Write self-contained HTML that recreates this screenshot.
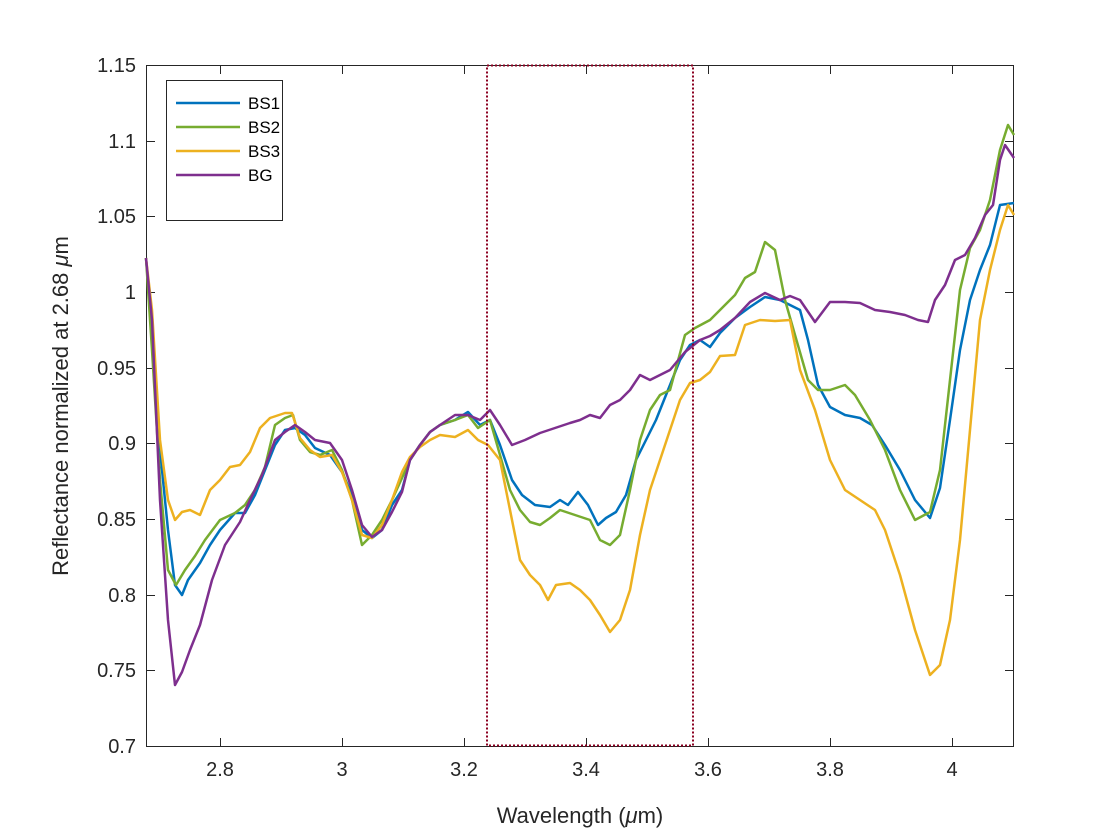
<!DOCTYPE html>
<html><head><meta charset="utf-8"><style>
html,body{margin:0;padding:0;background:#fff;}
svg{display:block;font-family:"Liberation Sans","DejaVu Sans",sans-serif;}
</style></head><body>
<svg width="1120" height="840" viewBox="0 0 1120 840">
<rect width="1120" height="840" fill="#fff"/>
<rect x="146.5" y="65.5" width="867" height="681" fill="#fff" stroke="#262626" stroke-width="1"/>
<g stroke="#262626" stroke-width="1">
<path d="M220.5 746v-8M342.5 746v-8M464.5 746v-8M586.5 746v-8M708.5 746v-8M830.5 746v-8M952.5 746v-8"/>
<path d="M220.5 66v8M342.5 66v8M464.5 66v8M586.5 66v8M708.5 66v8M830.5 66v8M952.5 66v8"/>
<path d="M147 65.5h8M147 141.5h8M147 216.5h8M147 292.5h8M147 368.5h8M147 443.5h8M147 519.5h8M147 595.5h8M147 670.5h8M147 746.5h8"/>
<path d="M1013 65.5h-8M1013 141.5h-8M1013 216.5h-8M1013 292.5h-8M1013 368.5h-8M1013 443.5h-8M1013 519.5h-8M1013 595.5h-8M1013 670.5h-8M1013 746.5h-8"/>
</g>
<g font-size="20" fill="#262626" text-anchor="middle">
<text x="220" y="776">2.8</text><text x="342" y="776">3</text><text x="464" y="776">3.2</text><text x="586" y="776">3.4</text><text x="708" y="776">3.6</text><text x="830" y="776">3.8</text><text x="952" y="776">4</text>
</g>
<g font-size="20" fill="#262626" text-anchor="end">
<text x="136" y="72">1.15</text><text x="136" y="148">1.1</text><text x="136" y="223">1.05</text><text x="136" y="299">1</text><text x="136" y="375">0.95</text><text x="136" y="450">0.9</text><text x="136" y="526">0.85</text><text x="136" y="602">0.8</text><text x="136" y="677">0.75</text><text x="136" y="753">0.7</text>
</g>
<text x="580" y="823" font-size="22" fill="#262626" text-anchor="middle">Wavelength (<tspan font-style="italic">μ</tspan>m)</text>
<text transform="translate(68,406) rotate(-90)" font-size="22" fill="#262626" text-anchor="middle">Reflectance normalized at 2.68 <tspan font-style="italic">μ</tspan>m</text>
<g fill="none" stroke-width="2.5" stroke-linejoin="round">
<polyline stroke="#0072BD" points="146,258 152,330 160,450 168,530 175,585 182,595 188,580 200,563 210,545 220,530 235,513 245,513 255,495 265,470 275,445 285,430 295,428 305,435 315,448 330,455 342,472 352,495 362,530 372,538 382,530 392,505 402,490 410,460 420,445 430,432 440,425 455,420 468,412 480,425 490,420 500,445 512,480 522,495 535,505 550,507 560,500 568,505 578,492 588,505 598,525 606,518 616,512 626,495 636,460 646,440 656,420 666,395 680,360 690,345 700,340 710,347 720,333 735,318 750,307 765,297 780,300 790,305 800,310 808,340 818,385 830,407 845,415 860,418 872,425 885,445 900,470 915,500 930,518 940,488 950,420 960,350 970,300 980,270 990,245 1000,205 1014,203"/>
<polyline stroke="#77AC30" points="146,258 152,350 160,480 168,570 176,585 185,570 195,556 205,540 220,520 235,513 245,505 255,490 265,467 275,425 285,418 293,415 300,440 310,452 320,455 332,450 342,470 352,500 362,545 372,535 382,520 392,500 402,478 410,460 420,445 430,432 440,425 455,420 468,415 478,428 490,420 500,455 510,490 520,510 530,522 540,525 550,518 560,510 575,515 590,520 600,540 610,545 620,535 630,490 640,440 650,410 660,395 670,390 685,335 695,328 710,320 720,310 735,295 745,278 755,272 765,242 775,250 785,300 795,335 808,380 818,390 830,390 845,385 855,395 870,420 885,450 900,490 915,520 930,512 940,470 950,380 960,290 970,248 980,230 990,200 1000,150 1008,125 1014,135"/>
<polyline stroke="#EDB120" points="146,258 152,310 160,440 168,500 175,520 182,512 190,510 200,515 210,490 220,480 230,467 240,465 250,452 260,428 270,418 285,413 292,413 300,438 310,450 320,457 332,455 342,472 352,500 362,535 372,538 382,525 392,500 402,472 410,457 420,447 430,440 440,435 455,437 468,430 478,440 488,445 500,460 510,510 520,560 530,575 540,585 548,600 556,585 570,583 580,590 590,600 600,615 610,632 620,620 630,590 640,535 650,490 660,460 670,430 680,400 690,383 700,380 710,372 720,356 735,355 745,325 760,320 775,321 790,320 800,370 815,410 830,460 845,490 860,500 875,510 885,530 900,575 915,630 930,675 940,665 950,620 960,540 970,430 980,320 990,270 1000,230 1008,205 1014,215"/>
<polyline stroke="#7E2F8E" points="146,258 152,320 160,500 168,620 175,685 182,672 190,650 200,625 212,580 225,545 240,522 250,500 262,475 275,440 285,432 295,425 305,432 315,440 330,443 342,460 352,490 362,525 372,537 382,530 392,512 402,492 410,460 420,445 430,432 440,425 455,415 468,415 480,420 490,410 500,425 512,445 525,440 540,433 555,428 570,423 580,420 590,415 600,418 610,405 620,400 630,390 640,375 650,380 660,375 670,370 685,352 700,340 710,336 720,330 735,318 750,302 765,293 780,300 790,296 800,300 815,322 830,302 845,302 860,303 875,310 890,312 905,315 918,320 928,322 935,300 945,285 955,260 965,255 975,238 985,215 993,205 1000,160 1005,145 1014,158"/>
</g>
<rect x="487" y="65.5" width="206" height="680" fill="none" stroke="#8B0020" stroke-width="2" stroke-dasharray="2,2"/>
<rect x="166.5" y="80.5" width="116" height="140" fill="#fff" stroke="#262626" stroke-width="1"/>
<g stroke-width="2.5">
<line x1="176" y1="103" x2="240" y2="103" stroke="#0072BD"/>
<line x1="176" y1="127" x2="240" y2="127" stroke="#77AC30"/>
<line x1="176" y1="151" x2="240" y2="151" stroke="#EDB120"/>
<line x1="176" y1="175" x2="240" y2="175" stroke="#7E2F8E"/>
</g>
<g font-size="17" fill="#000">
<text x="248" y="109">BS1</text><text x="248" y="133">BS2</text><text x="248" y="157">BS3</text><text x="248" y="181">BG</text>
</g>
</svg>
</body></html>
